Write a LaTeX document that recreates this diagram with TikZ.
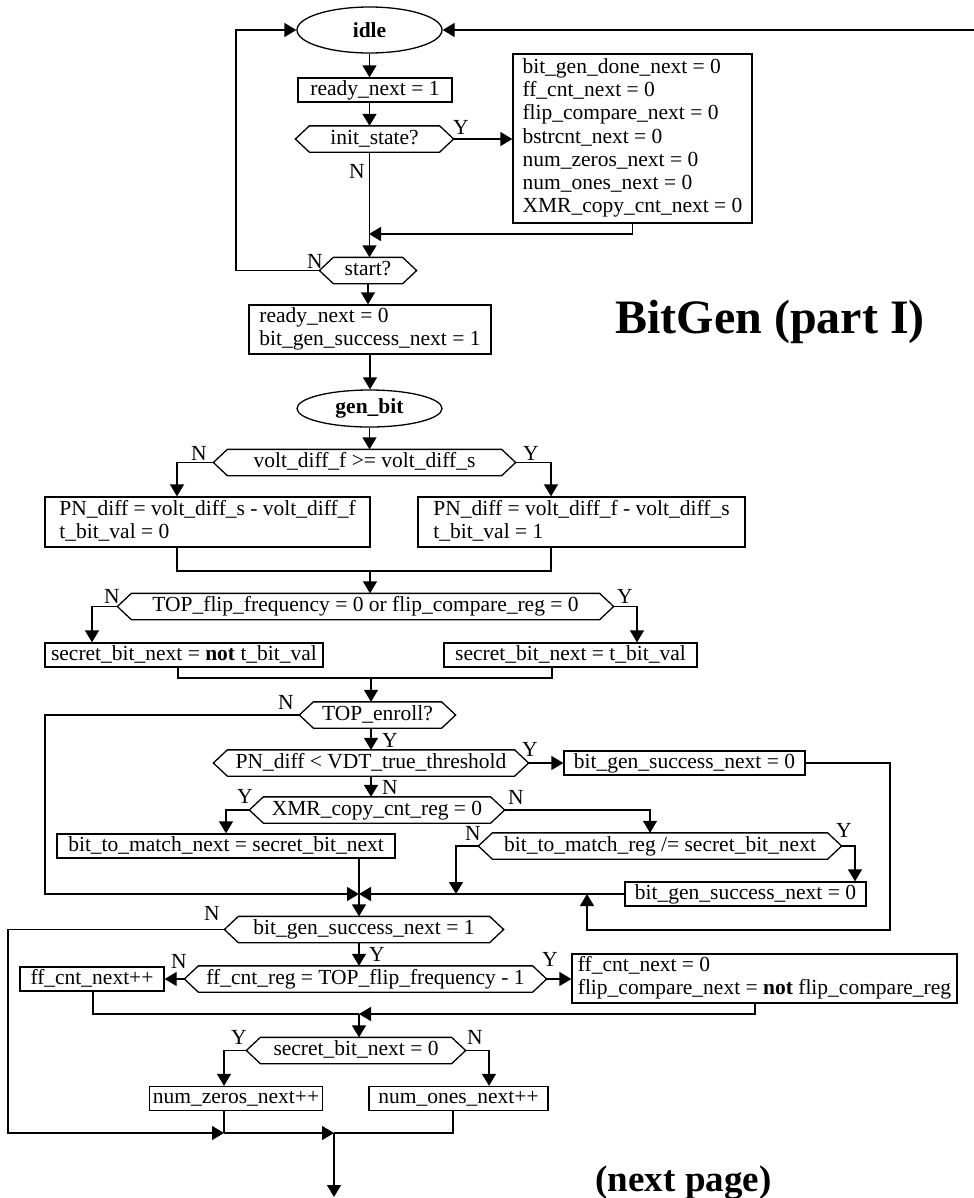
\documentclass[tikz,border=0pt]{standalone}
\usepackage{fontspec}
\setmainfont{Liberation Serif}
\usetikzlibrary{shapes.geometric,arrows.meta}

\newcommand{\hexframe}[1]{\draw (#1.west) -- ([xshift=14bp]#1.north west) -- ([xshift=-14bp]#1.north east) -- (#1.east) -- ([xshift=-14bp]#1.south east) -- ([xshift=14bp]#1.south west) -- cycle;}

\begin{document}
\begin{tikzpicture}[x=1bp,y=-1bp,line width=1.3bp,
  every node/.style={font=\fontsize{21.5bp}{23.2bp}\selectfont},
  box/.style={draw,rectangle,inner xsep=3bp,inner ysep=0bp,minimum height=24bp,text height=15bp,text depth=5bp},
  multibox/.style={draw,rectangle,inner sep=0bp},
  test/.style={rectangle,inner xsep=1bp,inner ysep=0bp,minimum height=25bp,text height=15bp,text depth=5bp},
  state/.style={draw,ellipse,inner sep=0bp,font=\fontsize{21.5bp}{23bp}\selectfont\bfseries},
  yn/.style={inner sep=0bp},
  flow/.style={-{Triangle[length=12bp,width=14bp]}}]
\useasboundingbox (0,0) rectangle (974,1198);

\node[state,minimum width=145bp,minimum height=46bp] (idle) at (369.5,30) {idle};
\node[box,minimum width=154bp] (rdyA) at (375,90) {ready\_next = 1};
\node[test,minimum width=157bp] (init) at (374.5,139) {init\_state?};
\node[multibox,minimum width=239bp,minimum height=169bp] (rst) at (632.5,138.5) {\begin{tabular}{@{}l@{}}bit\_gen\_done\_next = 0\\ ff\_cnt\_next = 0\\ flip\_compare\_next = 0\\ bstrcnt\_next = 0\\ num\_zeros\_next = 0\\ num\_ones\_next = 0\\ XMR\_copy\_cnt\_next = 0\end{tabular}};
\node[test,minimum width=96bp] (start) at (368,270.5) {start?};
\node[multibox,minimum width=242bp,minimum height=49bp] (rdyB) at (370,329.5) {\begin{tabular}{@{}l@{}}ready\_next = 0\\ bit\_gen\_success\_next = 1\end{tabular}};
\node[state,minimum width=145bp,minimum height=37bp] (gen) at (369.5,408.5) {gen\_bit};
\node[test,minimum width=301bp] (vd) at (364.5,462.5) {volt\_diff\_f >= volt\_diff\_s};
\node[multibox,minimum width=325bp,minimum height=50bp] (pnL) at (207.5,522) {\begin{tabular}{@{}l@{}}PN\_diff = volt\_diff\_s - volt\_diff\_f\\ t\_bit\_val = 0\end{tabular}};
\node[multibox,minimum width=327bp,minimum height=50bp] (pnR) at (581.5,522) {\begin{tabular}{@{}l@{}}PN\_diff = volt\_diff\_f - volt\_diff\_s\\ t\_bit\_val = 1\end{tabular}};
\node[test,minimum width=495bp] (tf) at (365.5,606.5) {TOP\_flip\_frequency = 0 or flip\_compare\_reg = 0};
\node[box,minimum width=278bp] (sbL) at (184,655) {secret\_bit\_next = \textbf{not} t\_bit\_val};
\node[box,minimum width=253bp] (sbR) at (570.5,655) {secret\_bit\_next = t\_bit\_val};
\node[test,minimum width=155bp] (enroll) at (377.5,715) {TOP\_enroll?};
\node[test,minimum width=314bp] (pv) at (371,763) {PN\_diff < VDT\_true\_threshold};
\node[box,minimum width=241bp] (bgsA) at (684.5,763) {bit\_gen\_success\_next = 0};
\node[test,minimum width=254bp] (xmr) at (377,810) {XMR\_copy\_cnt\_reg = 0};
\node[box,minimum width=338bp] (btm) at (226,846) {bit\_to\_match\_next = secret\_bit\_next};
\node[test,minimum width=362bp] (btr) at (660,846) {bit\_to\_match\_reg /= secret\_bit\_next};
\node[box,minimum width=241bp] (bgsB) at (745.5,894) {bit\_gen\_success\_next = 0};
\node[test,minimum width=278bp] (bgsC) at (364,929.5) {bit\_gen\_success\_next = 1};
\node[box,minimum width=144bp] (ffcnt) at (92,979) {ff\_cnt\_next++};
\node[test,minimum width=361bp] (ffc) at (365.5,979) {ff\_cnt\_reg = TOP\_flip\_frequency - 1};
\node[multibox,minimum width=385bp,minimum height=49bp] (ffr) at (764.5,978.5) {\begin{tabular}{@{}l@{}}ff\_cnt\_next = 0\\ flip\_compare\_next = \textbf{not} flip\_compare\_reg\end{tabular}};
\node[test,minimum width=218bp] (sb0) at (356,1050.5) {secret\_bit\_next = 0};
\node[box,minimum width=168bp] (nz) at (236,1098.5) {num\_zeros\_next++};
\node[box,minimum width=179bp] (no) at (458.5,1098.5) {num\_ones\_next++};

\hexframe{init}
\hexframe{start}
\hexframe{vd}
\hexframe{tf}
\hexframe{enroll}
\hexframe{pv}
\hexframe{xmr}
\hexframe{btr}
\hexframe{bgsC}
\hexframe{ffc}
\hexframe{sb0}

\node[font=\fontsize{48bp}{50bp}\selectfont\bfseries,anchor=base,inner sep=0bp] (title) at (770,333) {BitGen (part I)};
\node[font=\fontsize{37bp}{40bp}\selectfont\bfseries,anchor=base,inner sep=0bp] (cont) at (683.5,1191) {(next page)};

\coordinate (back) at (974,30);
\coordinate (lp) at (236,270.5);
\coordinate (j1) at (369,234);
\coordinate (cA) at (177,571);
\coordinate (cB) at (551,571);
\coordinate (m2) at (370,571);
\coordinate (cC) at (92,607);
\coordinate (cD) at (637,607);
\coordinate (cE) at (178,678);
\coordinate (cF) at (552,678);
\coordinate (m3) at (371,678);
\coordinate (cG) at (45,894);
\coordinate (j2) at (359,894);
\coordinate (cH) at (890,930);
\coordinate (j3) at (587,894);
\coordinate (cI) at (226,810);
\coordinate (cJ) at (650,810);
\coordinate (cK) at (456,846);
\coordinate (cL) at (855,846);
\coordinate (cM) at (8,1133);
\coordinate (j4) at (224,1133);
\coordinate (j5) at (334,1133);
\coordinate (j6) at (359,1014);
\coordinate (cO) at (93,1014);
\coordinate (cP) at (755,1014);
\coordinate (cQ) at (489,1050);
\coordinate (cN) at (453,1133);
\coordinate (out) at (334,1197);

\draw[flow] (back) -- (idle.east);
\draw[flow] (idle.south) -- (idle.south |- rdyA.north);
\draw[flow] (idle.south |- rdyA.south) -- (idle.south |- init.north);
\draw[flow] (init.east) -- (init.east -| rst.west);
\draw[flow] (rst.south) |- (j1);
\draw[flow] (idle.south |- init.south) -- (idle.south |- start.north);
\draw[flow] (start.west) -- (lp) |- (idle.west);
\draw[flow] (start.south) -- (start.south |- rdyB.north);
\draw[flow] (rdyB.south) -- (rdyB.south |- gen.north);
\draw[flow] (gen.south) -- (gen.south |- vd.north);
\draw[flow] (vd.west) -| (cA |- pnL.north);
\draw[flow] (vd.east) -| (cB |- pnR.north);
\draw (cA |- pnL.south) -- (cA) -- (cB) -- (cB |- pnR.south);
\draw[flow] (m2) -- (m2 |- tf.north);
\draw[flow] (tf.west) -| (cC |- sbL.north);
\draw[flow] (tf.east) -| (cD |- sbR.north);
\draw (cE |- sbL.south) -- (cE) -- (cF) -- (cF |- sbR.south);
\draw[flow] (m3) -- (m3 |- enroll.north);
\draw[flow] (enroll.west) -| (cG) -- (j2);
\draw[flow] (m3 |- enroll.south) -- (m3 |- pv.north);
\draw[flow] (pv.east) -- (pv.east -| bgsA.west);
\draw[flow] (bgsA.east) -| (cH) -| (j3);
\draw[flow] (m3 |- pv.south) -- (m3 |- xmr.north);
\draw[flow] (xmr.west) -| (cI |- btm.north);
\draw[flow] (xmr.east) -| (cJ |- btr.north);
\draw[flow] (btr.west) -| (cK |- j2);
\draw[flow] (btr.east) -| (cL |- bgsB.north);
\draw[flow] (bgsB.west) -- (j2);
\draw[flow] (j2 |- btm.south) -- (j2 |- bgsC.north);
\draw[flow] (bgsC.west) -| (cM) -- (j4);
\draw[flow] (j4) -- (j5);
\draw[flow] (j2 |- bgsC.south) -- (j2 |- ffc.north);
\draw[flow] (ffc.west) -- (ffc.west -| ffcnt.east);
\draw[flow] (ffc.east) -- (ffc.east -| ffr.west);
\draw (cO |- ffcnt.south) |- (j6);
\draw[flow] (cP |- ffr.south) |- (j6);
\draw[flow] (j6) -- (j6 |- sb0.north);
\draw[flow] (sb0.west) -| (j4 |- nz.north);
\draw[flow] (sb0.east) -| (cQ |- no.north);
\draw (j4 |- nz.south) -- (j4);
\draw (cN |- no.south) |- (j5);
\draw[flow] (j5) -- (out);

\node[yn] (yInit) at (461,127) {Y};
\node[yn] (nInit) at (357,171) {N};
\node[yn] (nStart) at (315,261) {N};
\node[yn] (nVd) at (199,453) {N};
\node[yn] (yVd) at (531,453) {Y};
\node[yn] (nTf) at (112,596) {N};
\node[yn] (yTf) at (625,596) {Y};
\node[yn] (nEnroll) at (286,702) {N};
\node[yn] (yEnroll) at (390,740) {Y};
\node[yn] (yPv) at (530,749) {Y};
\node[yn] (nPv) at (390,787) {N};
\node[yn] (yXmr) at (245,796) {Y};
\node[yn] (nXmr) at (516,797) {N};
\node[yn] (nBtr) at (473,833) {N};
\node[yn] (yBtr) at (844,830) {Y};
\node[yn] (nBgs) at (212,913) {N};
\node[yn] (yBgs) at (377,954) {Y};
\node[yn] (nFfc) at (179,961) {N};
\node[yn] (yFfc) at (550,959) {Y};
\node[yn] (ySb) at (239,1037) {Y};
\node[yn] (nSb) at (475,1037) {N};
\end{tikzpicture}
\end{document}
